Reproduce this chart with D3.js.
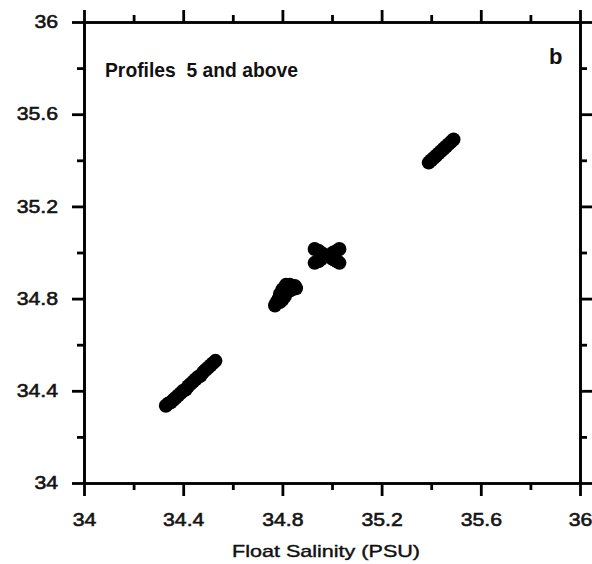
<!DOCTYPE html>
<html><head><meta charset="utf-8">
<script src="https://cdn.jsdelivr.net/npm/d3@7"></script>
<style>body{margin:0;background:#fff}svg{display:block}text{font-family:"Liberation Sans",Arial,sans-serif;fill:#111}</style>
</head><body><svg id="c" width="592" height="564"></svg>
<script>
const majorTicks = [34, 34.4, 34.8, 35.2, 35.6, 36];
const minorTicks = [34.2, 34.6, 35.0, 35.4, 35.8];
const tickLabels = ["34", "34.4", "34.8", "35.2", "35.6", "36"];
const floatSal = [34.33,34.34,34.35,34.36,34.37,34.38,34.39,34.40,34.41,34.42,34.43,34.44,34.45,34.46,34.47,34.48,34.49,34.50,34.51,34.52,34.53,
  34.77,34.775,34.78,34.785,34.79,34.80,34.81,34.82,34.83,34.84,34.85,34.81,34.80,34.79,34.80,34.82,34.83,34.815,
  34.79,34.785,34.80,34.84,34.85,34.83,34.81,34.855,
  34.93,34.945,34.955,34.97,34.98,34.99,35.005,35.02,35.03,35.03,35.02,35.005,34.955,34.945,34.93,34.98,
  35.39,35.40,35.41,35.42,35.43,35.44,35.45,35.46,35.47,35.48,35.49];
const ctdSal = [34.335,34.345,34.35,34.36,34.37,34.38,34.39,34.40,34.405,34.42,34.43,34.44,34.45,34.46,34.465,34.48,34.49,34.50,34.51,34.52,34.53,
  34.77,34.78,34.79,34.795,34.80,34.83,34.81,34.84,34.86,34.85,34.85,34.85,34.84,34.82,34.81,34.83,34.85,34.86,
  34.785,34.80,34.795,34.84,34.855,34.835,34.82,34.845,
  35.015,35.008,35.0,34.99,34.985,34.98,34.97,34.962,34.955,35.015,35.008,35.0,34.97,34.962,34.955,34.985,
  35.39,35.40,35.41,35.42,35.43,35.44,35.45,35.46,35.47,35.48,35.49];
const titleText = "Profiles  5 and above";
const panelLabel = "b";
const xTitle = "Float Salinity (PSU)";

const svg = d3.select("#c");
const x = d3.scaleLinear().domain([34, 36]).range([84, 580]);
const y = d3.scaleLinear().domain([34, 36]).range([483, 22]);
const fmt = (d) => tickLabels[majorTicks.indexOf(d)] || "";

function styleAxis(g){
  g.selectAll("path.domain").attr("stroke","#000").attr("stroke-width",2.6);
  g.selectAll(".tick line").attr("stroke","#000").attr("stroke-width",2.8);
  g.selectAll("text").style("font-size","18px").attr("fill","#1a1a1a")
    .attr("stroke","#1a1a1a").attr("stroke-width",0.6);
}
function stretch(g){
  g.selectAll("text").each(function(){
    const w = this.getComputedTextLength();
    d3.select(this).attr("textLength", w*1.18).attr("lengthAdjust","spacingAndGlyphs");
  });
}
// bottom
const gb = svg.append("g").attr("transform","translate(0,483)")
  .call(d3.axisBottom(x).tickValues(majorTicks).tickFormat(fmt).tickSize(13).tickSizeOuter(0).tickPadding(17));
styleAxis(gb); stretch(gb);
svg.append("g").attr("transform","translate(0,483)")
  .call(d3.axisBottom(x).tickValues(minorTicks).tickFormat("").tickSize(7).tickSizeOuter(0)).call(styleAxis);
// top
svg.append("g").attr("transform","translate(0,22)")
  .call(d3.axisTop(x).tickValues(majorTicks).tickFormat("").tickSize(12).tickSizeOuter(0)).call(styleAxis);
svg.append("g").attr("transform","translate(0,22)")
  .call(d3.axisTop(x).tickValues(minorTicks).tickFormat("").tickSize(7).tickSizeOuter(0)).call(styleAxis);
// left
const gl = svg.append("g").attr("transform","translate(84,0)")
  .call(d3.axisLeft(y).tickValues(majorTicks).tickFormat(fmt).tickSize(12).tickSizeOuter(0).tickPadding(14));
styleAxis(gl); stretch(gl);
svg.append("g").attr("transform","translate(84,0)")
  .call(d3.axisLeft(y).tickValues(minorTicks).tickFormat("").tickSize(7).tickSizeOuter(0)).call(styleAxis);
// right
svg.append("g").attr("transform","translate(580,0)")
  .call(d3.axisRight(y).tickValues(majorTicks).tickFormat("").tickSize(12).tickSizeOuter(0)).call(styleAxis);
svg.append("g").attr("transform","translate(580,0)")
  .call(d3.axisRight(y).tickValues(minorTicks).tickFormat("").tickSize(7).tickSizeOuter(0)).call(styleAxis);

// points
svg.append("g").selectAll("circle").data(floatSal).join("circle")
  .attr("cx", d => x(d)).attr("cy", (d,i) => y(ctdSal[i])).attr("r", 7).attr("fill","#000");

// texts
svg.append("text").attr("x",105).attr("y",77).style("font-size","21px").style("font-weight","bold")
  .attr("xml:space","preserve").style("white-space","pre")
  .attr("textLength",193).attr("lengthAdjust","spacingAndGlyphs").text(titleText);
svg.append("text").attr("x",549).attr("y",64).style("font-size","22px").style("font-weight","bold").text(panelLabel);
svg.append("text").attr("x",326).attr("y",557).attr("text-anchor","middle").style("font-size","17px")
  .attr("stroke","#111").attr("stroke-width",0.4)
  .attr("textLength",188).attr("lengthAdjust","spacingAndGlyphs").text(xTitle);
</script></body></html>
